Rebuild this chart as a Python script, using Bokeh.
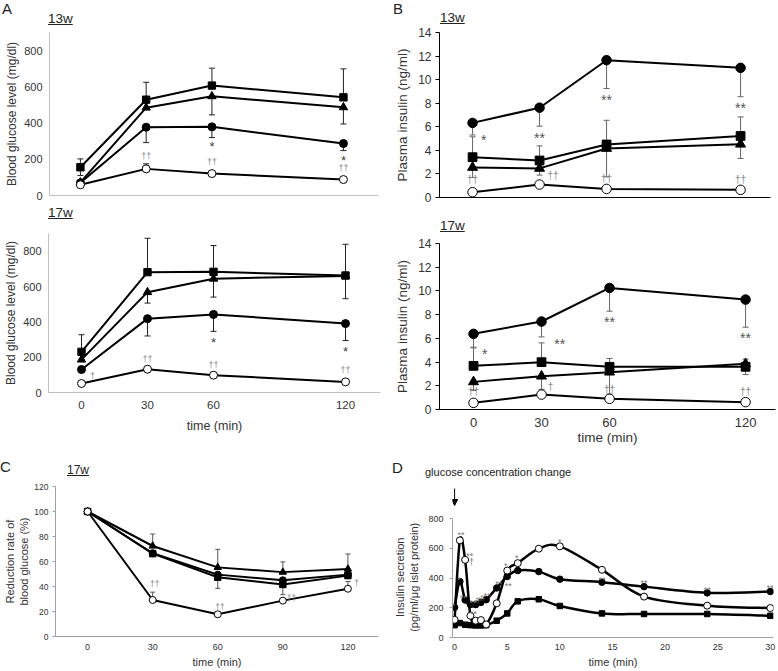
from bokeh.plotting import figure
from bokeh.models import (Range1d, FixedTicker, TeeHead, Whisker, ColumnDataSource, Div, Arrow,
                          NormalHead, LinearAxis)
from bokeh.layouts import column, row
from bokeh.embed import file_html
from bokeh.resources import INLINE
from bokeh.core.properties import value

NaN = float("nan")
FONT = "Liberation Sans"
INK = "#333333"

# ---------------- Panel A : blood glucose (mg/dl) ----------------
time_ab = [0, 30, 60, 120]
a_yticks = [0, 200, 400, 600, 800]

a13_square = [156, 529, 607, 542]
a13_square_err = [202, 625, 703, 699]
a13_square_err2 = [110, NaN, NaN, NaN]
a13_triangle = [72, 485, 548, 487]
a13_triangle_err = [NaN, NaN, 445, 395]
a13_circle = [70, 377, 379, 287]
a13_circle_err = [NaN, 292, 320, 248]
a13_open = [59, 147, 121, 88]
a13_open_err = [NaN, 175, NaN, NaN]
a13_star_x = [60, 120]
a13_star_y = [285, 208]
a13_star_t = ["*", "*"]
a13_dag_x = [30, 60, 120]
a13_dag_y = [220, 184, 151]
a13_dag_t = ["††", "††", "††"]

a17_square = [230, 681, 683, 662]
a17_square_err = [327, 873, 832, 839]
a17_square_err2 = [NaN, NaN, NaN, 531]
a17_triangle = [186, 568, 644, 660]
a17_triangle_err = [NaN, 506, 540, NaN]
a17_circle = [130, 418, 442, 390]
a17_circle_err = [NaN, 320, 346, 294]
a17_open = [51, 132, 98, 60]
a17_star_x = [60, 120]
a17_star_y = [301, 248]
a17_star_t = ["*", "*"]
a17_dag_x = [5, 30, 60, 120]
a17_dag_y = [94, 192, 158, 126]
a17_dag_t = ["†", "††", "††", "††"]

# ---------------- Panel B : plasma insulin (ng/ml) ----------------
b_yticks = [0, 2, 4, 6, 8, 10, 12, 14]

b13_circle = [6.33, 7.62, 11.65, 11.0]
b13_circle_err = [5.3, 6.05, 9.25, 8.55]
b13_square = [3.42, 3.14, 4.5, 5.22]
b13_square_err = [5.15, 4.38, 6.55, 6.84]
b13_triangle = [2.55, 2.47, 4.16, 4.52]
b13_triangle_err = [1.7, 1.9, 1.75, 3.31]
b13_open = [0.45, 1.1, 0.73, 0.65]
b13_star_x = [5, 30, 60, 120]
b13_star_y = [5.15, 5.3, 8.5, 7.85]
b13_star_t = ["*", "**", "**", "**"]
b13_dag_x = [0, 36, 60, 120]
b13_dag_y = [1.5, 1.85, 1.6, 1.5]
b13_dag_t = ["††", "††", "††", "††"]

b17_circle = [6.38, 7.42, 10.25, 9.27]
b17_circle_err = [5.25, 6.12, 8.29, 6.94]
b17_square = [3.68, 3.99, 3.6, 3.6]
b17_square_err = [5.2, 5.62, 4.3, 4.25]
b17_square_err2 = [NaN, NaN, NaN, 2.95]
b17_triangle = [2.33, 2.81, 3.15, 3.85]
b17_triangle_err = [1.6, 1.7, 1.3, NaN]
b17_open = [0.56, 1.26, 0.9, 0.62]
b17_star_x = [5, 38, 60, 120]
b17_star_y = [4.9, 5.75, 7.6, 6.3]
b17_star_t = ["*", "**", "**", "**"]
b17_dag_x = [0, 34, 60, 120]
b17_dag_y = [1.55, 1.95, 1.65, 1.55]
b17_dag_t = ["††", "†", "††", "††"]

# ---------------- Panel C : reduction rate of blood glucose (%) ----------------
time_c = [0, 30, 60, 90, 120]
c_yticks = [0, 20, 40, 60, 80, 100, 120]
c_square = [100, 66.3, 47.4, 41.6, 48.7]
c_square_err = [NaN, NaN, 38.5, 33.5, NaN]
c_triangle = [100, 72.4, 55.3, 51.5, 54]
c_triangle_err = [NaN, 82, 69.7, 59.7, 66]
c_circle = [100, 66.6, 49.5, 45, 49.5]
c_open = [100, 29.2, 17.8, 28.7, 38.2]
c_open_err = [NaN, 35.5, NaN, NaN, 44]
c_dag_x = [31, 61, 94, 124]
c_dag_y = [42, 24, 31, 43]
c_dag_t = ["††", "††", "††", "†"]

# ---------------- Panel D : insulin secretion ----------------
time_d = [0, 0.5, 1, 1.5, 2, 2.5, 3, 4, 5, 6, 8, 10, 14, 18, 24, 30]
d_xticks = [0, 5, 10, 15, 20, 25, 30]
d_yticks = [0, 200, 400, 600, 800]
d_open = [119, 653, 522, 146, 113, 117, 88, 230, 450, 500, 597, 613, 455, 275, 214, 198]
d_circle = [203, 376, 252, 221, 221, 236, 254, 333, 410, 450, 443, 392, 372, 342, 300, 309]
d_square = [83, 97, 86, 83, 81, 81, 83, 113, 162, 243, 257, 212, 162, 158, 158, 146]
d_ann_x = [-0.1, 0.6, 0.45, 1.45, 1.6, 0.85, 1.75, 2.2, 2.65, 3.1, 1.8, 4.2, 4.85, 5.1, 5.9, 10.0, 14.0, 18.0, 24.0, 30.0]
d_ann_y = [225, 705, 401, 563, 522, 281, 248, 268, 282, 290, 169, 372, 495, 360, 547, 657, 401, 378, 331, 345]
d_ann_t = ["*", "**", "*", "**", "†", "**", "**", "#", "#", "**", "**", "**", "*", "**", "*", "*", "**", "**", "**", "**"]
d_change_time = 0          # time of the glucose concentration change


# ---------------- helpers ----------------
def make_fig(w, h, l, r, t, b, xr, yr, align_off=True):
    p = figure(width=w, height=h, x_range=Range1d(*xr), y_range=Range1d(*yr),
               output_backend="svg", toolbar_location=None,
               min_border_left=l, min_border_right=r, min_border_top=t, min_border_bottom=b)
    if align_off and "frame_align" in p.properties():
        p.frame_align = False
    p.title.visible = False
    p.outline_line_color = None
    p.xgrid.visible = False
    p.ygrid.visible = False
    p.background_fill_color = "white"
    p.border_fill_color = "white"
    return p


def style_axis(ax, color, ticks, tick_size, tick_out, standoff, label, label_size, label_standoff):
    ax.ticker = FixedTicker(ticks=ticks)
    ax.axis_line_color = color
    ax.axis_line_width = 1
    ax.major_tick_line_color = color if tick_out > 0 else None
    ax.major_tick_in = 0
    ax.major_tick_out = tick_out
    ax.minor_tick_line_color = None
    ax.major_label_text_font = FONT
    ax.major_label_text_font_size = tick_size
    ax.major_label_text_color = INK
    ax.major_label_standoff = standoff
    if label:
        ax.axis_label = label
        ax.axis_label_text_font = FONT
        ax.axis_label_text_font_size = label_size
        ax.axis_label_text_font_style = "normal"
        ax.axis_label_text_color = INK
        ax.axis_label_standoff = label_standoff


def err_bars(p, t, ys, ends, color, head=6):
    up = dict(base=[], lower=[], upper=[])
    lo = dict(base=[], lower=[], upper=[])
    for ti, yi, ei in zip(t, ys, ends):
        if ei != ei:
            continue
        if ei >= yi:
            up["base"].append(ti); up["lower"].append(yi); up["upper"].append(ei)
        else:
            lo["base"].append(ti); lo["lower"].append(ei); lo["upper"].append(yi)
    if up["base"]:
        p.add_layout(Whisker(source=ColumnDataSource(up), base="base", lower="lower", upper="upper",
                             line_color=color, line_width=1,
                             upper_head=TeeHead(size=head, line_color=color, line_width=1),
                             lower_head=None))
    if lo["base"]:
        p.add_layout(Whisker(source=ColumnDataSource(lo), base="base", lower="lower", upper="upper",
                             line_color=color, line_width=1,
                             lower_head=TeeHead(size=head, line_color=color, line_width=1),
                             upper_head=None))


def series(p, t, sq, tri, cir, opn, msize, lw=2):
    for ys in (sq, tri, cir, opn):
        p.line(t, ys, line_color="black", line_width=lw)
    p.scatter(t, sq, marker="square", size=msize * 0.92, fill_color="black", line_color="black")
    p.scatter(t, tri, marker="triangle", size=msize * 1.05, fill_color="black", line_color="black")
    p.scatter(t, cir, marker="circle", size=msize, fill_color="black", line_color="black")
    p.scatter(t, opn, marker="circle", size=msize, fill_color="white", line_color="black", line_width=1)


def marks(p, xs, ys, texts, size, color, yoff=0):
    p.text(x=xs, y=ys, text=texts, text_font=value(FONT), text_font_size=size,
           text_color=color, text_align="center", text_baseline="middle", y_offset=yoff)


def text_div(width, height, items, extra=""):
    parts = []
    for x, y, txt, size, underline in items:
        deco = "text-decoration:underline;" if underline else ""
        parts.append(
            f'<span style="position:absolute;left:{x}px;top:{y}px;font-size:{size}px;'
            f'line-height:normal;white-space:nowrap;{deco}">{txt}</span>')
    html = (f'<div style="position:relative;width:{width}px;height:{height}px;overflow:visible;'
            f'font-family:\'Liberation Sans\',Arial,sans-serif;color:#222;">'
            + "".join(parts) + extra + '</div>')
    return Div(text=html, width=width, height=height, margin=0)


A_AX = "#bfbfbf"
GL = "Blood glucose level (mg/dl)"
PI = "Plasma insulin (ng/ml)"

# ---- A 13w ----
pA13 = make_fig(390, 179, 49, 12, 7, 9, (-14.1, 136), (0, 900))
style_axis(pA13.yaxis[0], A_AX, a_yticks, "11px", 0, 7, GL, "12px", 2)
style_axis(pA13.xaxis[0], A_AX, [], "11px", 0, 0, None, None, 0)
err_bars(pA13, time_ab, a13_square, a13_square_err, "#222")
err_bars(pA13, time_ab, a13_square, a13_square_err2, "#222")
err_bars(pA13, time_ab, a13_triangle, a13_triangle_err, "#222")
err_bars(pA13, time_ab, a13_circle, a13_circle_err, "#222")
err_bars(pA13, time_ab, a13_open, a13_open_err, "#222")
series(pA13, time_ab, a13_square, a13_triangle, a13_circle, a13_open, 8)
marks(pA13, a13_star_x, a13_star_y, a13_star_t, "13px", "#444", 3)
marks(pA13, a13_dag_x, a13_dag_y, a13_dag_t, "9px", "#888")

# ---- B 13w ----
pB13 = make_fig(387, 179, 49, 7, 7, 7, (-14.8, 133.4), (0, 14))
style_axis(pB13.yaxis[0], "black", b_yticks, "12px", 4, 4, PI, "13.5px", 5)
style_axis(pB13.xaxis[0], "black", [], "12px", 0, 0, None, None, 0)
err_bars(pB13, time_ab, b13_circle, b13_circle_err, "#666")
err_bars(pB13, time_ab, b13_square, b13_square_err, "#666")
err_bars(pB13, time_ab, b13_triangle, b13_triangle_err, "#666")
series(pB13, time_ab, b13_square, b13_triangle, b13_circle, b13_open, 9.5)
marks(pB13, b13_star_x, b13_star_y, b13_star_t, "14px", "#555", 3)
marks(pB13, b13_dag_x, b13_dag_y, b13_dag_t, "10px", "#888")

# ---- A 17w ----
pA17 = make_fig(390, 222, 48, 10, 0, 63, (-15, 135.9), (0, 900))
style_axis(pA17.yaxis[0], A_AX, a_yticks, "11px", 0, 7, GL, "12px", 2)
style_axis(pA17.xaxis[0], A_AX, time_ab, "11.5px", 0, 8, "time (min)", "12.5px", 7)
err_bars(pA17, time_ab, a17_square, a17_square_err, "#222")
err_bars(pA17, time_ab, a17_square, a17_square_err2, "#222")
err_bars(pA17, time_ab, a17_triangle, a17_triangle_err, "#222")
err_bars(pA17, time_ab, a17_circle, a17_circle_err, "#222")
series(pA17, time_ab, a17_square, a17_triangle, a17_circle, a17_open, 8)
marks(pA17, a17_star_x, a17_star_y, a17_star_t, "13px", "#444", 3)
marks(pA17, a17_dag_x, a17_dag_y, a17_dag_t, "9px", "#888")

# ---- B 17w ----
pB17 = make_fig(387, 222, 49, 2, 10, 46, (-15, 133.2), (0, 14))
style_axis(pB17.yaxis[0], "black", b_yticks, "12px", 4, 4, PI, "13.5px", 5)
style_axis(pB17.xaxis[0], "black", time_ab, "13px", 0, 8, "time (min)", "13.5px", 0)
err_bars(pB17, time_ab, b17_circle, b17_circle_err, "#666")
err_bars(pB17, time_ab, b17_square, b17_square_err, "#666")
err_bars(pB17, time_ab, b17_square, b17_square_err2, "#666")
err_bars(pB17, time_ab, b17_triangle, b17_triangle_err, "#666")
series(pB17, time_ab, b17_square, b17_triangle, b17_circle, b17_open, 9.5)
marks(pB17, b17_star_x, b17_star_y, b17_star_t, "14px", "#555", 3)
marks(pB17, b17_dag_x, b17_dag_y, b17_dag_t, "10px", "#888")

# ---- C ----
C_AX = "#a0a0a0"
pC = make_fig(390, 191, 55, 12, 7, 33, (-14.8, 134.1), (0, 120))
style_axis(pC.yaxis[0], C_AX, c_yticks, "8.5px", 3, 4, "Reduction rate of\nblood glucose (%)", "11px", 1)
style_axis(pC.xaxis[0], C_AX, time_c, "9px", 0, 7, "time (min)", "11px", 3)
err_bars(pC, time_c, c_square, c_square_err, "#555", 5)
err_bars(pC, time_c, c_triangle, c_triangle_err, "#555", 5)
err_bars(pC, time_c, c_open, c_open_err, "#555", 5)
series(pC, time_c, c_square, c_triangle, c_circle, c_open, 7)
marks(pC, c_dag_x, c_dag_y, c_dag_t, "8.5px", "#888")


# ---- D ----
def smooth_segments(xs, ys):
    n = len(xs)
    out = dict(x0=[], y0=[], x1=[], y1=[], cx0=[], cy0=[], cx1=[], cy1=[])
    for i in range(n - 1):
        a = max(i - 1, 0)
        d = min(i + 2, n - 1)
        out["x0"].append(xs[i]); out["y0"].append(ys[i])
        out["x1"].append(xs[i + 1]); out["y1"].append(ys[i + 1])
        out["cx0"].append(xs[i] + (xs[i + 1] - xs[a]) / 6.0)
        out["cy0"].append(ys[i] + (ys[i + 1] - ys[a]) / 6.0)
        out["cx1"].append(xs[i + 1] - (xs[d] - xs[i]) / 6.0)
        out["cy1"].append(ys[i + 1] - (ys[d] - ys[i]) / 6.0)
    return out


D_AX = "#a0a0a0"
D_PX = 119 / 800.0                     # pixels per unit on the D value axis
D_TOP = 800 + 32 / D_PX                # frame reaches 32 px above the 800 tick (room for the arrow)
NB = "\u00a0" * 10
pD = make_fig(387, 191, 62, 4, 7, 9, (-0.2, 30.3), (0, D_TOP))
style_axis(pD.yaxis[0], D_AX, d_yticks, "9px", 3, 6, "(pg/ml/\u03bcg islet protein)" + NB, "11px", 5)
pD.yaxis[0].bounds = (0, 800)
# outer, label-only axis carrying the first line of the value-axis title
outer = LinearAxis(ticker=FixedTicker(ticks=[]), axis_line_color=None, major_tick_line_color=None,
                   minor_tick_line_color=None, major_label_text_font_size="0px",
                   axis_label="Insulin secretion" + NB, axis_label_text_font=FONT,
                   axis_label_text_font_size="11px", axis_label_text_font_style="normal",
                   axis_label_text_color=INK, axis_label_standoff=0, major_label_standoff=0,
                   major_tick_in=0, major_tick_out=0)
pD.add_layout(outer, "left")
style_axis(pD.xaxis[0], D_AX, d_xticks, "9px", 0, 6, "time (min)", "11px", 3)
for ys in (d_square, d_circle, d_open):
    src = ColumnDataSource(smooth_segments(time_d, ys))
    pD.bezier(x0="x0", y0="y0", x1="x1", y1="y1", cx0="cx0", cy0="cy0", cx1="cx1", cy1="cy1",
              source=src, line_color="black", line_width=2.5)
pD.scatter(time_d, d_square, marker="square", size=5.5, fill_color="black", line_color="black")
pD.scatter(time_d, d_circle, marker="circle", size=6.5, fill_color="black", line_color="black")
pD.scatter(time_d, d_open, marker="circle", size=7, fill_color="white", line_color="black", line_width=1)
marks(pD, d_ann_x, d_ann_y, d_ann_t, "9px", "#777", 2)
# arrow marking the change of glucose concentration (30 px .. 13 px above the 800 tick)
pD.add_layout(Arrow(end=NormalHead(size=6, fill_color="black", line_color="black"),
                    x_start=d_change_time, y_start=800 + 30 / D_PX,
                    x_end=d_change_time, y_end=800 + 13 / D_PX,
                    line_color="black", line_width=1))

# ---------------- text strips (panel letters, sub-titles) ----------------
div_top = text_div(777, 25, [
    (2, 0, "A", 15, False),
    (48, 11, "13w", 13.5, True),
    (393, 0, "B", 15, False),
    (440, 10, "13w", 13.5, True),
])
div_mid = text_div(777, 29, [
    (48, 1, "17w", 13.5, True),
    (440, 14, "17w", 13.5, True),
])
div_bot = text_div(777, 24, [
    (0, 3, "C", 15, False),
    (67, 8, "17w", 12, True),
    (392, 4, "D", 15, False),
    (425, 11, "glucose concentration change", 11, False),
])

layout = column(div_top, row(pA13, pB13), div_mid, row(pA17, pB17), div_bot, row(pC, pD))
open("out.html", "w").write(file_html(layout, INLINE))
